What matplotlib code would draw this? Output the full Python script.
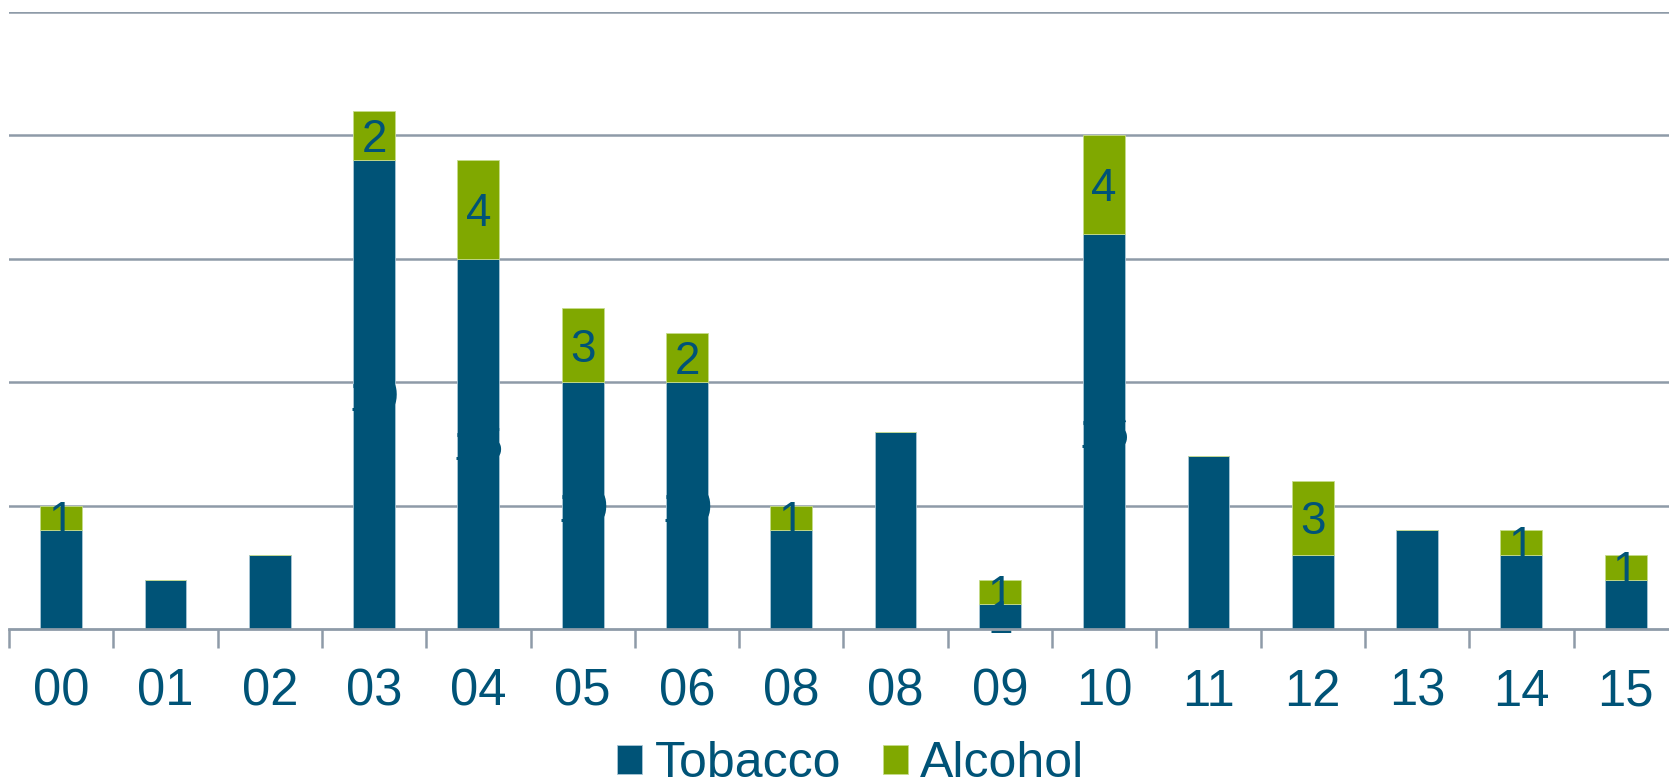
import numpy as np
import matplotlib
matplotlib.use("Agg")
import matplotlib.pyplot as plt
from matplotlib.ticker import FixedLocator

categories = ["00", "01", "02", "03", "04", "05", "06", "08",
              "08", "09", "10", "11", "12", "13", "14", "15"]
tobacco = [4, 2, 3, 19, 15, 10, 10, 4, 8, 1, 16, 7, 3, 4, 3, 2]
alcohol = [1, 0, 0, 2, 4, 3, 2, 1, 0, 1, 4, 0, 3, 0, 1, 1]

C_TOB = "#005377"
C_ALC = "#80A800"
C_GRID = "#8E9BA8"
C_TXT = "#005377"
LBL_FS = 33

plt.rcParams["font.family"] = ["Liberation Sans", "DejaVu Sans"]

fig = plt.figure(figsize=(16.69, 7.81), dpi=100)
ax = fig.add_axes([9 / 1669, 152 / 781, 16 * 104.3 / 1669, 617 / 781])

x = np.arange(len(categories))
tob = np.array(tobacco)
alc = np.array(alcohol)

b1 = ax.bar(x, tob, width=0.4, color=C_TOB, edgecolor="#A9C6D6",
            linewidth=0.6, label="Tobacco", zorder=3)
b2 = ax.bar(x, alc, width=0.4, bottom=tob, color=C_ALC, edgecolor="#C6DC8A",
            linewidth=0.6, label="Alcohol", zorder=3)

# подписи сегментов: цифра центрируется по высоте заглавных букв
# (у табака цвет подписи совпадает с заливкой)
half_cap = -0.716 * LBL_FS / 2
for xi, t, a in zip(x, tob, alc):
    if t > 0:
        ax.annotate(str(t), (xi, t / 2), xytext=(0, half_cap),
                    textcoords="offset points", ha="center", va="baseline",
                    fontsize=LBL_FS, color=C_TXT, zorder=4)
    if a > 0:
        ax.annotate(str(a), (xi, t + a / 2), xytext=(0, half_cap),
                    textcoords="offset points", ha="center", va="baseline",
                    fontsize=LBL_FS, color=C_TXT, zorder=4)

ax.set_xlim(-0.5, len(categories) - 0.5)
ax.set_ylim(0, 25)
ax.set_yticks([5, 10, 15, 20, 25])
ax.yaxis.grid(True, color=C_GRID, lw=1.8, zorder=1)
ax.tick_params(axis="y", left=False, labelleft=False)

ax.set_xticks(x)
ax.set_xticklabels(categories, fontsize=36.5, color=C_TXT)
ax.tick_params(axis="x", which="major", length=0, pad=28)
ax.xaxis.set_minor_locator(FixedLocator(np.arange(-0.5, len(categories), 1.0)))
ax.tick_params(axis="x", which="minor", length=14, width=1.8, color=C_GRID)

for s in ("top", "right", "left"):
    ax.spines[s].set_visible(False)
ax.spines["bottom"].set_color(C_GRID)
ax.spines["bottom"].set_linewidth(2)
ax.spines["bottom"].set_zorder(5)

leg = fig.legend(handles=[b1, b2], loc="center", bbox_to_anchor=(851 / 1669, 1 - 764 / 781),
                 ncol=2, frameon=False, fontsize=36, handlelength=0.5,
                 handleheight=0.5, handletextpad=0.24, columnspacing=0.85,
                 borderaxespad=0)
for t in leg.get_texts():
    t.set_color(C_TXT)

fig.savefig("out.png", dpi=100)
